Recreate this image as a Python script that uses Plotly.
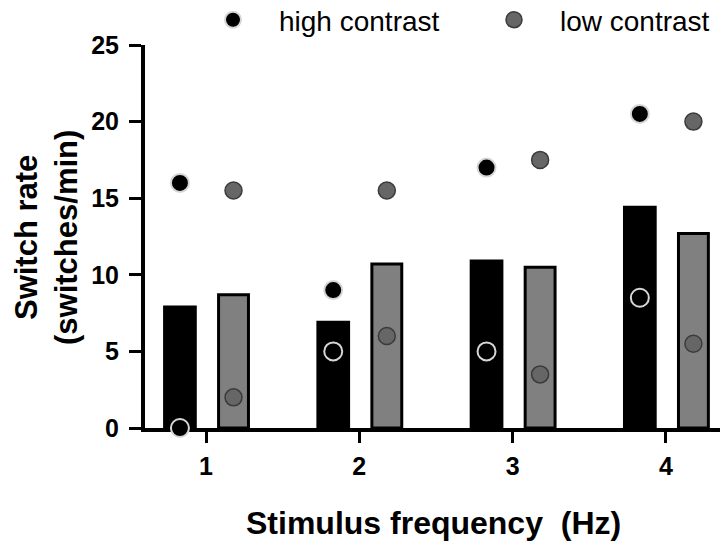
import plotly.graph_objects as go

# ---- data ----
freqs = [1, 2, 3, 4]
freq_labels = ["1", "2", "3", "4"]
high_bar = [8.0, 7.0, 11.0, 14.5]
low_bar = [8.7, 10.7, 10.5, 12.7]
high_upper = [16.0, 9.0, 17.0, 20.5]
high_lower = [0.0, 5.0, 5.0, 8.5]
low_upper = [15.5, 15.5, 17.5, 20.0]
low_lower = [2.0, 6.0, 3.5, 5.5]
y_ticks = [0, 5, 10, 15, 20, 25]

FONT = "Liberation Sans, Arial, sans-serif"

# group geometry (x units)
HIGH_OFF, HIGH_W = -0.28, 0.22
LOW_OFF, LOW_W = 0.082, 0.195
high_c = HIGH_OFF + HIGH_W / 2
low_c = LOW_OFF + LOW_W / 2

fig = go.Figure()
fig.add_trace(go.Bar(
    x=freqs, y=high_bar, offset=HIGH_OFF, width=HIGH_W,
    marker=dict(color="#000000", line=dict(width=0)),
    showlegend=False, hoverinfo="skip"))
fig.add_trace(go.Bar(
    x=freqs, y=low_bar, offset=LOW_OFF, width=LOW_W,
    marker=dict(color="#808080", line=dict(color="#000000", width=3)),
    showlegend=False, hoverinfo="skip"))

fig.add_trace(go.Scatter(
    x=[f + high_c for f in freqs] * 2, y=high_upper + high_lower,
    mode="markers", name="high contrast", cliponaxis=False,
    marker=dict(size=18, color="#000000", line=dict(color="#d6d6d6", width=2))))
fig.add_trace(go.Scatter(
    x=[f + low_c for f in freqs] * 2, y=low_upper + low_lower,
    mode="markers", name="low contrast", cliponaxis=False,
    marker=dict(size=17, color="#666666", line=dict(color="#3a3a3a", width=1.5))))

L, R, T, B = 145, 4, 45, 114
W, H = 724, 542
PW, PH = W - L - R, H - T - B
px_per_unit = 153.3
x0 = 1 - (206 - L) / px_per_unit
x1 = x0 + PW / px_per_unit


def px_x(p):
    return (p - L) / PW


def px_y(p):
    return ((H - B) - p) / PH


fig.update_layout(
    width=W, height=H,
    margin=dict(l=L, r=R, t=T, b=B, pad=0, autoexpand=False),
    paper_bgcolor="white", plot_bgcolor="white",
    font=dict(family=FONT, color="#000000"),
    barmode="overlay",
    xaxis=dict(range=[x0, x1], tickvals=freqs, ticktext=freq_labels,
               showgrid=False, zeroline=False,
               showline=True, linecolor="#000000", linewidth=4,
               ticks="outside", ticklen=11, tickwidth=3, tickcolor="#000000",
               tickfont=dict(size=25, weight="bold"), ticklabelstandoff=2,
               layer="below traces"),
    yaxis=dict(range=[0, 25], tickvals=y_ticks,
               showgrid=False, zeroline=False,
               showline=True, linecolor="#000000", linewidth=4,
               ticks="outside", ticklen=12, tickwidth=3, tickcolor="#000000",
               tickfont=dict(size=25, weight="bold"), ticklabelstandoff=5),
    legend=dict(orientation="h", xref="paper", yref="paper",
                x=px_x(187), y=px_y(20), xanchor="left", yanchor="middle",
                itemwidth=82, entrywidth=184,
                font=dict(size=28, family=FONT),
                bgcolor="rgba(0,0,0,0)"),
    annotations=[
        dict(text="Stimulus frequency\u00a0\u00a0(Hz)", xref="paper", yref="paper",
             x=px_x(433), y=px_y(523),
             xanchor="center", yanchor="middle", showarrow=False,
             font=dict(size=32, weight="bold", family=FONT)),
        dict(text="Switch rate<br>(switches/min)", xref="paper", yref="paper",
             x=px_x(46), y=px_y(238),
             xanchor="center", yanchor="middle", showarrow=False, textangle=-90,
             font=dict(size=31, weight="bold", family=FONT)),
    ],
)

fig.write_html("out.html")
